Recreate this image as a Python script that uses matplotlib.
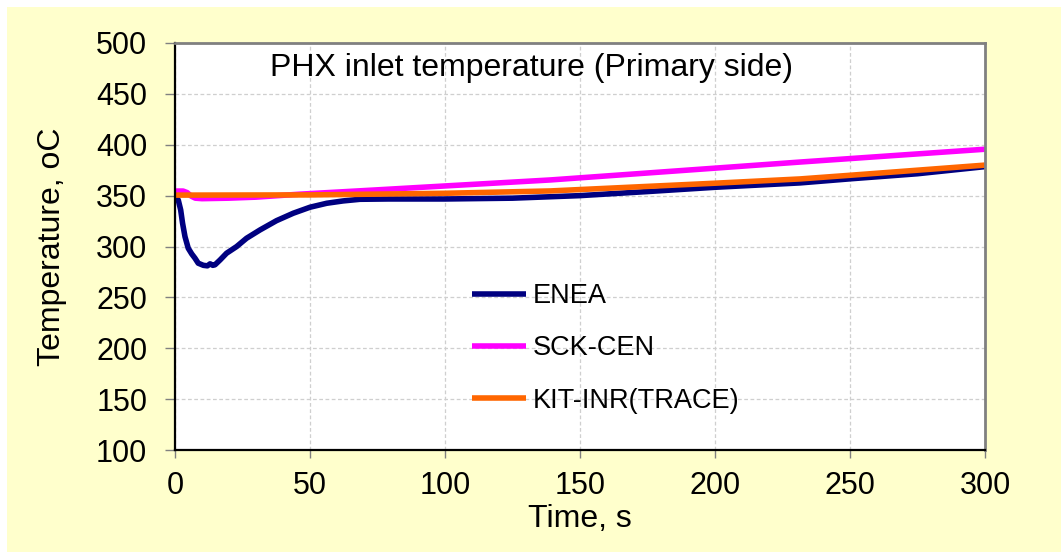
import matplotlib
matplotlib.use("Agg")
import matplotlib.pyplot as plt
from matplotlib.patches import Rectangle

plt.rcParams['font.family'] = ['Liberation Sans', 'DejaVu Sans']

# ---- data ----
enea_t = [0, 1.2, 2.1, 2.8, 3.7, 4.9, 6.2, 7.4, 8.6, 10.5, 12, 13, 14, 14.8, 16.7, 19.1,
          22.8, 26.5, 31.5, 37.6, 43.8, 50, 56.2, 62.3, 68.5, 79, 100, 125, 150, 175,
          200, 231.5, 250, 275, 300]
enea_v = [349, 345.8, 336, 322.9, 309.7, 298.3, 292.7, 288.5, 283.6, 281.5, 281, 283, 281.5,
          282, 286.8, 293.4, 299.9, 308.1, 316.3, 325.4, 332.7, 338.6, 342.5, 344.8, 346.4,
          346.7, 346.7, 347.5, 350, 354, 358.2, 362.5, 366.5, 371.5, 378.5]

sck_t = [0, 3, 4.5, 6, 7.5, 10, 20, 30, 46, 75, 100, 139, 200, 231.5, 300]
sck_v = [354.5, 354.5, 353, 349.5, 347.5, 347, 347.5, 348.5, 351.4, 355.7, 359.5, 365.4,
         377, 383, 395.6]

kit_t = [0, 50, 100, 139, 200, 231.5, 250, 300]
kit_v = [350.5, 350.7, 352.3, 354.6, 362.2, 366.4, 370, 380]

labels = ["ENEA", "SCK-CEN", "KIT-INR(TRACE)"]
colors = ["#000080", "#FF00FF", "#FF6600"]

title = "PHX inlet temperature (Primary side)"
xlabel = "Time, s"
ylabel = "Temperature, oC"
xticks = [0, 50, 100, 150, 200, 250, 300]
yticks = [100, 150, 200, 250, 300, 350, 400, 450, 500]

W, H = 1061, 552
fig = plt.figure(figsize=(W / 100, H / 100), dpi=100)
fig.patch.set_facecolor("white")
fig.patches.append(Rectangle((7 / W, 0), 1 - 7 / W, (H - 7) / H, transform=fig.transFigure,
                             facecolor="#FFFFCC", edgecolor="none", zorder=-10))

ax = fig.add_axes([175 / W, 1 - 450 / H, (985 - 175) / W, (450 - 43) / H])
ax.set_facecolor("white")

series = [(enea_t, enea_v), (sck_t, sck_v), (kit_t, kit_v)]
for (t, v), lab, c in zip(series, labels, colors):
    ax.plot(t, v, color=c, lw=4, label=lab, solid_joinstyle="round", solid_capstyle="butt")

ax.set_xlim(0, 300)
ax.set_ylim(100, 500)
ax.set_xticks(xticks)
ax.set_yticks(yticks)
ax.grid(True, color="#CFCFCF", linestyle=(0, (3, 2)), linewidth=0.9)
ax.set_axisbelow(True)

ax.tick_params(axis="y", labelsize=22, length=7, width=1, color="#808080", pad=13)
ax.tick_params(axis="x", labelsize=22, length=6, width=1, color="#808080", pad=9)

for s in ["left", "bottom"]:
    ax.spines[s].set_color("black")
    ax.spines[s].set_linewidth(1.6)
for s in ["top", "right"]:
    ax.spines[s].set_color("#808080")
    ax.spines[s].set_linewidth(2)

ax.set_xlabel(xlabel, fontsize=23, labelpad=2)
ax.set_ylabel(ylabel, fontsize=23, labelpad=21)

ax.text((531 - 175) / 810, (450 - 68) / 407, title, transform=ax.transAxes,
        ha="center", va="center", fontsize=23)

ax.legend(loc="upper left", bbox_to_anchor=((472 - 175) / 810, (450 - 283) / 407),
          frameon=False, fontsize=19.5, handlelength=2.0, handletextpad=0.25,
          labelspacing=0.97, borderpad=0, borderaxespad=0)

fig.savefig("out.png", dpi=100, facecolor=fig.get_facecolor())
